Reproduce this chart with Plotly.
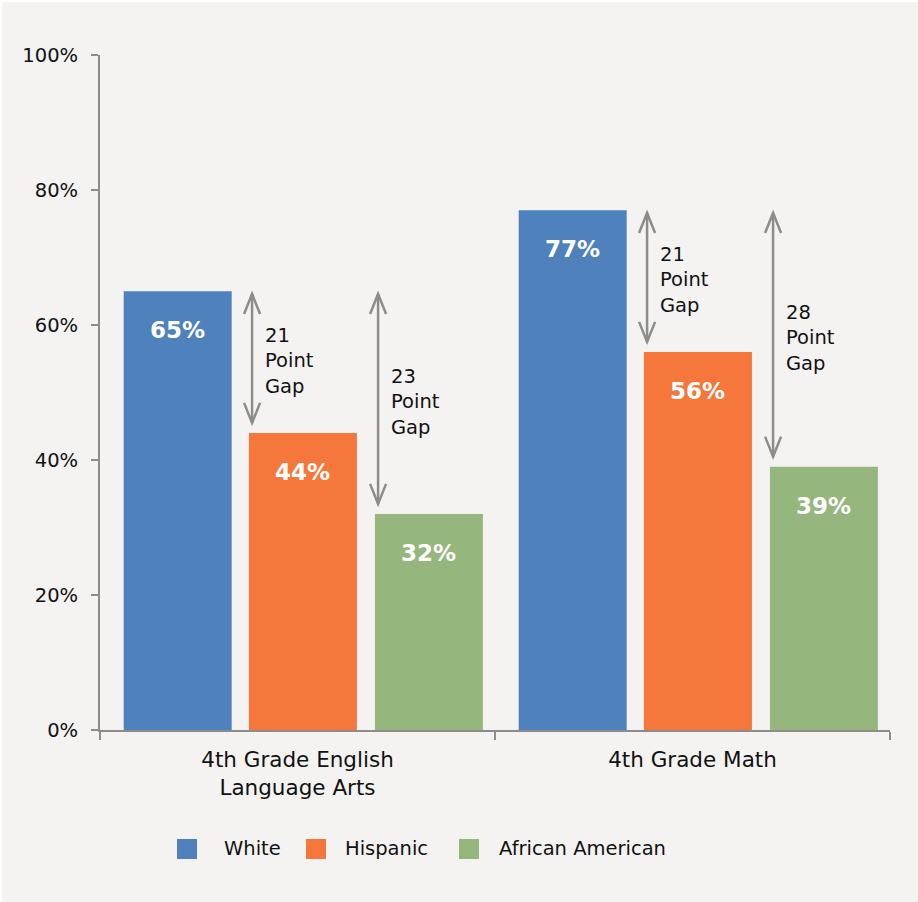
import plotly.graph_objects as go

# ---------------- data ----------------
categories = ["4th Grade English<br>Language Arts", "4th Grade Math"]
series_names = ["White", "Hispanic", "African American"]
white = [65, 77]
hispanic = [44, 56]
african_american = [32, 39]
# gap labels exactly as printed on the original chart
gap_labels_ela = [21, 23]
gap_labels_math = [21, 28]
y_tick_values = [0, 20, 40, 60, 80, 100]
y_tick_labels = ["0%", "20%", "40%", "60%", "80%", "100%"]

colors = ["#4F81BD", "#F5773B", "#95B77D"]
series_values = [white, hispanic, african_american]
gap_labels = [gap_labels_ela, gap_labels_math]

# ---------------- layout constants ----------------
OFF = 2  # page offset of the figure (body margin)
W, H = 918 - OFF, 902 - OFF
ML, MT = 100 - OFF, 55 - OFF
MR = W - (890 - OFF)
MB = H - (730 - OFF)
PW, PH = W - ML - MR, H - MT - MB
BG = "#F4F3F1"
AXIS = "#8C8C8C"
FONT = "DejaVu Sans"
TXT = "#111111"
BAR_WIDTH = 0.2734                   # in category units
BAR_OFFSETS = [-0.44, -0.123, 0.196]  # left edge of each series relative to category centre

fig = go.Figure()
for name, vals, col, off in zip(series_names, series_values, colors, BAR_OFFSETS):
    fig.add_trace(go.Bar(
        x=categories, y=vals, name=name, marker=dict(color=col, line=dict(width=0)),
        width=BAR_WIDTH, offset=off,
        showlegend=False, hoverinfo="x+y+name",
    ))

annotations = []
shapes = []

# value labels inside bars
for s, vals in enumerate(series_values):
    for c, v in enumerate(vals):
        annotations.append(dict(
            x=c + BAR_OFFSETS[s] + BAR_WIDTH / 2, y=v, xref="x", yref="y", text=f"{v}%",
            showarrow=False, yshift=-39, yanchor="middle", xanchor="center",
            font=dict(family=FONT, size=23, color="white", weight="bold"),
        ))

# gap arrows
def vhead(x, y, up):
    d = -1 if up else 1
    return dict(
        type="path", xref="x", yref="y", xsizemode="pixel", ysizemode="pixel",
        xanchor=x, yanchor=y,
        path=f"M-8,{d*20} L0,0 L8,{d*20}",
        line=dict(color=AXIS, width=2.5),
    )

for c in range(len(categories)):
    high = white[c]
    for k, low_series in enumerate([1, 2]):
        low = series_values[low_series][c]
        ax = c + BAR_OFFSETS[low_series] + 0.008
        y_top = high - 0.4
        y_bot = low + 1.5
        shapes.append(dict(type="line", xref="x", yref="y", x0=ax, x1=ax,
                           y0=y_bot, y1=y_top, line=dict(color=AXIS, width=2.5)))
        shapes.append(vhead(ax, y_top, True))
        shapes.append(vhead(ax, y_bot, False))
        annotations.append(dict(
            x=ax, y=(y_top + y_bot) / 2, xref="x", yref="y",
            text=f"{gap_labels[c][k]}<br>Point<br>Gap", showarrow=False,
            xanchor="left", yanchor="middle", align="left", xshift=11, yshift=-3,
            font=dict(family=FONT, size=19.5, color=TXT),
        ))

# manual legend (page pixel positions converted to paper coords)
def px2paper_x(px):
    return (px - OFF - ML) / PW

def px2paper_y(py):
    return (H - MB - (py - OFF)) / PH

legend_square_x = [177, 306, 459]
legend_text_x = [222, 343, 497]
legend_y = 849
for name, col, sx, tx in zip(series_names, colors, legend_square_x, legend_text_x):
    shapes.append(dict(type="rect", xref="paper", yref="paper",
                       x0=px2paper_x(sx), x1=px2paper_x(sx + 20),
                       y0=px2paper_y(legend_y + 10), y1=px2paper_y(legend_y - 10),
                       fillcolor=col, line=dict(width=0)))
    annotations.append(dict(x=px2paper_x(tx), y=px2paper_y(legend_y), xref="paper", yref="paper",
                            text=name, showarrow=False, xanchor="left", yanchor="middle",
                            font=dict(family=FONT, size=19.5, color=TXT)))

fig.update_layout(
    width=W, height=H,
    margin=dict(l=ML, r=MR, t=MT, b=MB, pad=0),
    paper_bgcolor=BG, plot_bgcolor=BG,
    barmode="group",
    font=dict(family=FONT, color=TXT),
    showlegend=False,
    annotations=annotations, shapes=shapes,
    xaxis=dict(
        type="category", range=[-0.5, 1.5], tickson="boundaries",
        ticks="outside", ticklen=8, tickwidth=2, tickcolor=AXIS,
        showline=True, linecolor=AXIS, linewidth=2, showgrid=False,
        tickfont=dict(family=FONT, size=21.5, color=TXT), ticklabelstandoff=9,
    ),
    yaxis=dict(
        range=[0, 100], tickvals=y_tick_values, ticktext=y_tick_labels,
        ticks="outside", ticklen=7, tickwidth=2, tickcolor=AXIS,
        showline=True, linecolor=AXIS, linewidth=2, showgrid=False, zeroline=False,
        tickfont=dict(family=FONT, size=19.5, color=TXT), ticklabelstandoff=9,
    ),
)

fig.write_html(
    "out.html",
    post_script="document.body.style.margin='2px 0 0 2px';document.body.style.overflow='hidden';",
)
